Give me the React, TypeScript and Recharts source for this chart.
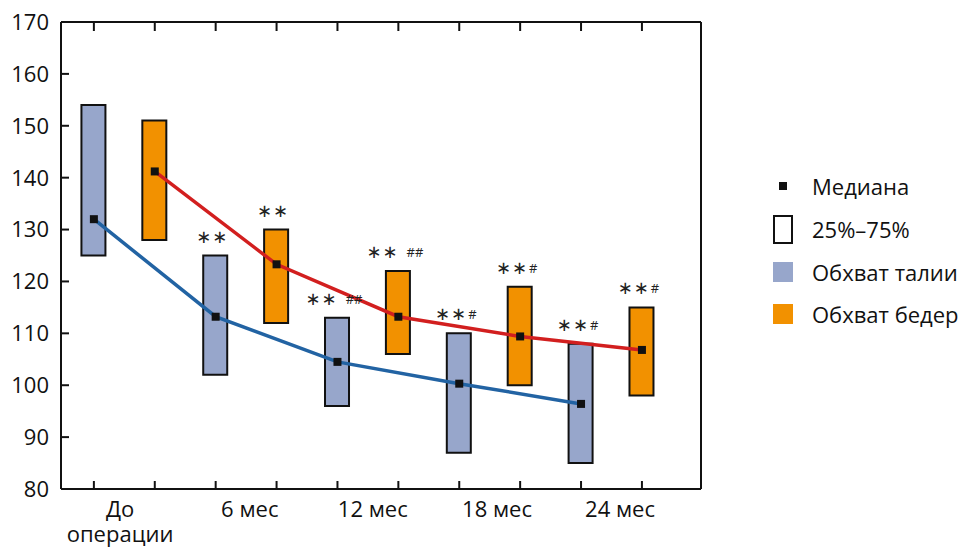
import {
  Bar,
  CartesianGrid,
  Cell,
  ComposedChart,
  LabelList,
  Legend,
  Line,
  XAxis,
  YAxis,
} from "recharts";

// 10 box positions: waist / hip alternating for each time point
const positions = [0, 1, 2, 3, 4, 5, 6, 7, 8, 9];
const boxLow = [125, 128, 102, 112, 96, 106, 87, 100, 85, 98];
const boxHigh = [154, 151, 125, 130, 113, 122, 110, 119, 108, 115];
const waistMedian = [132, 113.2, 104.5, 100.3, 96.4];
const hipMedian = [141.2, 123.3, 113.2, 109.4, 106.8];
const notes = ["", "", "**", "**", "** ##", "** ##", "**#", "**#", "**#", "**#"];

const categories = ["До\nоперации", "6 мес", "12 мес", "18 мес", "24 мес"];
const categoryTicks = [0.43, 2.56, 4.58, 6.62, 8.64];
const yTicks = [80, 90, 100, 110, 120, 130, 140, 150, 160, 170];

const WAIST = "#97a6cb";
const HIP = "#f29100";
const WAIST_LINE = "#2263a3";
const HIP_LINE = "#d21f1f";
const FONT = "'Open Sans', sans-serif";
const AXIS = "#111";
const X_DOMAIN = [-0.54, 9.97];

const data = positions.map((i) => ({
  pos: i,
  box: [boxLow[i], boxHigh[i]],
  note: notes[i],
  waist: i % 2 === 0 ? waistMedian[i / 2] : null,
  hip: i % 2 === 1 ? hipMedian[(i - 1) / 2] : null,
}));

const LeftTick = ({ x, y, payload }: any) => (
  <g>
    <line x1={x + 12} x2={x + 20} y1={y} y2={y} stroke={AXIS} strokeWidth={2} />
    <text x={x} y={y} dy="0.36em" textAnchor="end" fontSize={22} fontFamily={FONT} fill="#111">
      {payload.value}
    </text>
  </g>
);

const RightTick = ({ x, y }: any) => (
  <line x1={x - 9} x2={x - 1} y1={y} y2={y} stroke={AXIS} strokeWidth={2} />
);

const BottomMark = ({ x, y }: any) => (
  <line x1={x} x2={x} y1={y} y2={y - 8} stroke={AXIS} strokeWidth={2} />
);

const TopMark = ({ x, y }: any) => (
  <line x1={x} x2={x} y1={y + 1} y2={y + 9} stroke={AXIS} strokeWidth={2} />
);

const CategoryTick = ({ x, y, index }: any) => {
  const lines = categories[index].split("\n");
  return (
    <text x={x} y={y + 27} textAnchor="middle" fontSize={22} fontFamily={FONT} fill="#111">
      {lines.map((l, k) => (
        <tspan key={k} x={x} dy={k === 0 ? 0 : 25}>
          {l}
        </tspan>
      ))}
    </text>
  );
};

const Median = ({ cx, cy }: any) =>
  cy == null ? null : <rect x={cx - 4} y={cy - 4} width={8} height={8} fill="#111" />;

const NoteLabel = ({ x, y, width, value }: any) => {
  if (!value) return null;
  const m = /^(\*+)(\s*)(#*)$/.exec(value);
  if (!m) return null;
  const stars = m[1].replace(/\*/g, "\u2217");
  return (
    <text x={x + width / 2 - 3} y={y - 13} textAnchor="middle" fill="#222">
      <tspan fontSize={18} fontFamily="'DejaVu Sans', sans-serif" letterSpacing={1}>
        {stars}
      </tspan>
      {m[3] && (
        <tspan fontSize={13} fontFamily={FONT} dx={m[2] ? 8 : 1} dy={-1}>
          {m[3]}
        </tspan>
      )}
    </text>
  );
};

const legendItems = [
  { label: "Медиана", kind: "median" },
  { label: "25%–75%", kind: "box" },
  { label: "Обхват талии", kind: "waist" },
  { label: "Обхват бедер", kind: "hip" },
];

const Swatch = ({ kind }: { kind: string }) => {
  if (kind === "median")
    return <div style={{ width: 8, height: 8, background: "#111", margin: "0 6px" }} />;
  if (kind === "box")
    return <div style={{ width: 16, height: 25, border: "2px solid #111", background: "#fff" }} />;
  return <div style={{ width: 20, height: 20, background: kind === "waist" ? WAIST : HIP }} />;
};

const LegendBox = () => (
  <div style={{ fontFamily: FONT, fontSize: 22, color: "#111" }}>
    {legendItems.map((it) => (
      <div key={it.kind} style={{ display: "flex", alignItems: "center", height: 42.7 }}>
        <div style={{ width: 20, display: "flex", justifyContent: "center", marginRight: 19 }}>
          <Swatch kind={it.kind} />
        </div>
        <span>{it.label}</span>
      </div>
    ))}
  </div>
);

export default function App() {
  return (
    <ComposedChart
      width={962}
      height={539}
      data={data}
      margin={{ top: 13, right: 268, bottom: 0, left: 0 }}
    >
      <CartesianGrid vertical={false} stroke="#c4c4c4" strokeWidth={1.5} />
      <XAxis
        xAxisId="a"
        dataKey="pos"
        type="number"
        domain={X_DOMAIN}
        ticks={positions}
        height={1}
        tickSize={0}
        tickMargin={0}
        tickLine={false}
        axisLine={{ stroke: AXIS, strokeWidth: 2 }}
        tick={<BottomMark />}
        interval={0}
      />
      <XAxis
        xAxisId="b"
        dataKey="pos"
        type="number"
        domain={X_DOMAIN}
        ticks={categoryTicks}
        height={57}
        tickSize={0}
        tickMargin={0}
        tickLine={false}
        axisLine={false}
        tick={<CategoryTick />}
        interval={0}
      />
      <XAxis
        xAxisId="c"
        orientation="top"
        dataKey="pos"
        type="number"
        domain={X_DOMAIN}
        ticks={positions}
        height={1}
        tickSize={0}
        tickMargin={0}
        tickLine={false}
        axisLine={{ stroke: AXIS, strokeWidth: 2 }}
        tick={<TopMark />}
        interval={0}
      />
      <YAxis
        yAxisId="left"
        domain={[80, 170]}
        ticks={yTicks}
        width={53}
        tickSize={0}
        tickMargin={12}
        tickLine={false}
        axisLine={{ stroke: AXIS, strokeWidth: 2 }}
        tick={<LeftTick />}
        interval={0}
      />
      <YAxis
        yAxisId="right"
        orientation="right"
        domain={[80, 170]}
        ticks={yTicks}
        width={1}
        tickSize={0}
        tickMargin={0}
        tickLine={false}
        axisLine={{ stroke: AXIS, strokeWidth: 2 }}
        tick={<RightTick />}
        interval={0}
      />
      <Bar
        xAxisId="a"
        yAxisId="left"
        dataKey="box"
        barSize={24}
        stroke="#111"
        strokeWidth={2}
        isAnimationActive={false}
        legendType="none"
      >
        {data.map((d) => (
          <Cell key={d.pos} fill={d.pos % 2 === 0 ? WAIST : HIP} />
        ))}
        <LabelList dataKey="note" content={<NoteLabel />} />
      </Bar>
      <Line
        xAxisId="a"
        yAxisId="left"
        dataKey="waist"
        type="linear"
        stroke={WAIST_LINE}
        strokeWidth={3.5}
        connectNulls
        dot={<Median />}
        activeDot={false}
        isAnimationActive={false}
      />
      <Line
        xAxisId="a"
        yAxisId="left"
        dataKey="hip"
        type="linear"
        stroke={HIP_LINE}
        strokeWidth={3.5}
        connectNulls
        dot={<Median />}
        activeDot={false}
        isAnimationActive={false}
      />
      <Legend
        layout="vertical"
        align="center"
        verticalAlign="middle"
        content={() => <LegendBox />}
        wrapperStyle={{ left: 765, top: 157, width: 200 }}
      />
    </ComposedChart>
  );
}
